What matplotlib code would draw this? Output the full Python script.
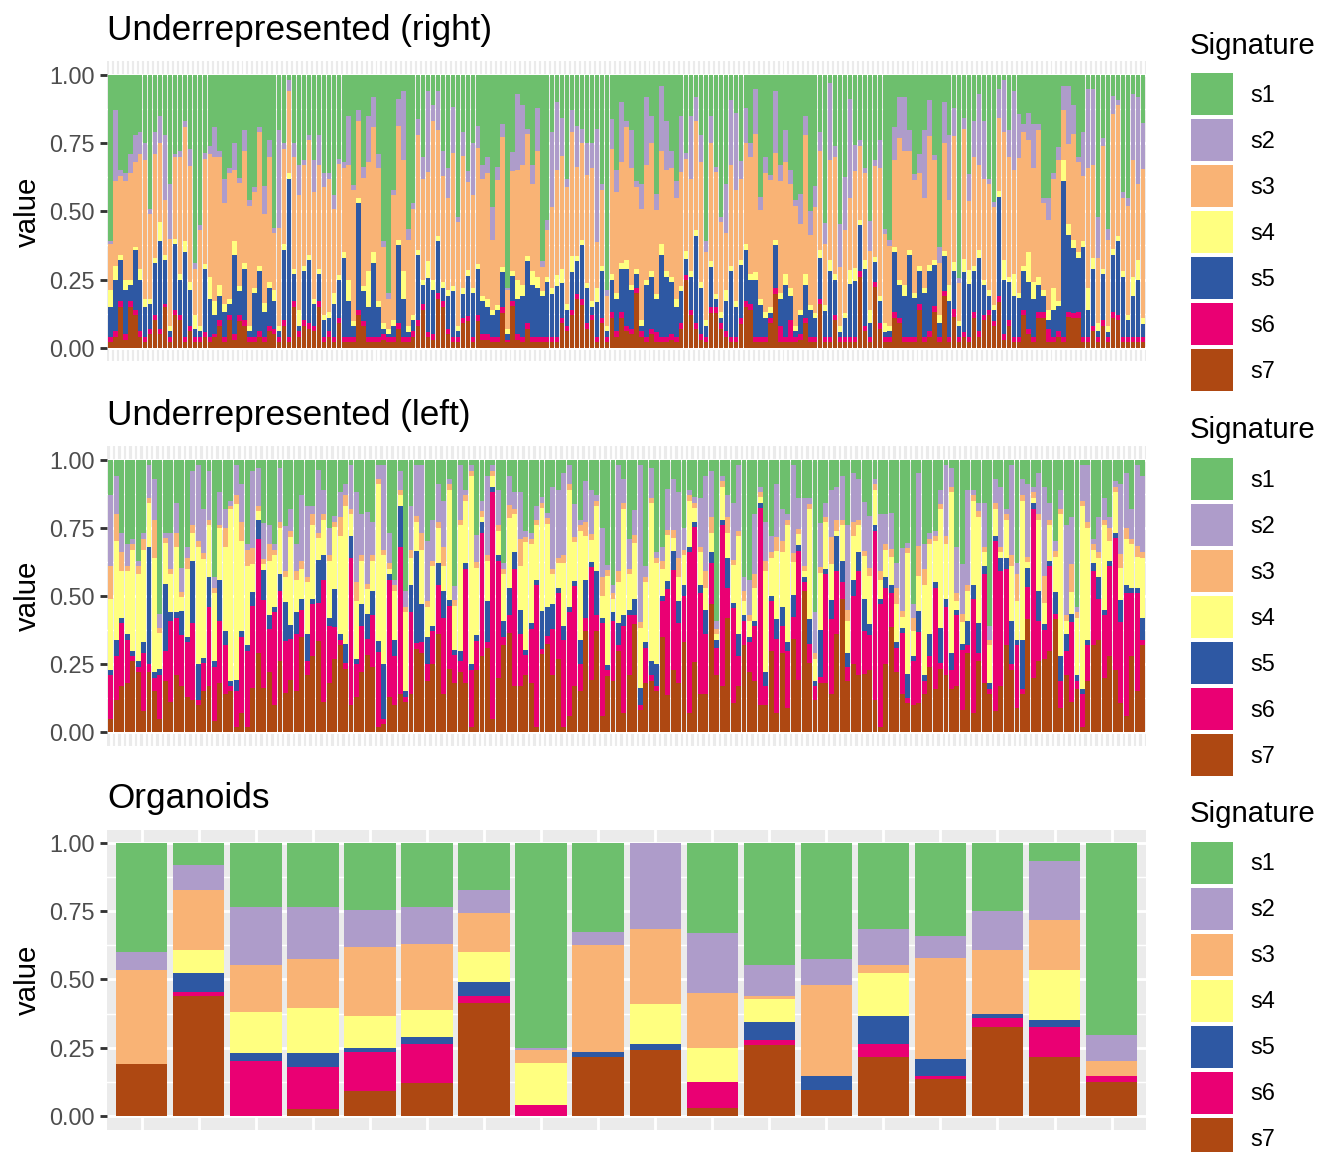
import numpy as np
import matplotlib
matplotlib.use('Agg')
import matplotlib.pyplot as plt
from matplotlib.patches import Rectangle

plt.rcParams['font.family'] = ['Liberation Sans', 'DejaVu Sans']

# ---- data (percent per signature, one value per sample) ----
signatures = ['s1', 's2', 's3', 's4', 's5', 's6', 's7']
sig_colors = ['#6DBF6D', '#AE9CCA', '#F9B375', '#FFFF80', '#2E58A3', '#EA0073', '#AE4812']

# Underrepresented (right): 209 samples
right_s7 = [2, 4, 15, 3, 15, 12, 4, 2, 5, 10, 5, 15, 2, 12, 10, 2, 6, 2, 2, 4,
            2, 4, 8, 2, 10, 3, 10, 8, 2, 2, 4, 2, 6, 5, 2, 8, 2, 15, 4, 8,
            7, 6, 15, 2, 4, 2, 9, 2, 2, 2, 12, 8, 2, 2, 2, 3, 2, 2, 7, 2,
            2, 4, 8, 14, 4, 3, 18, 15, 5, 2, 2, 9, 10, 2, 10, 3, 3, 2, 2, 13,
            2, 15, 3, 2, 7, 2, 2, 2, 2, 2, 2, 9, 6, 12, 18, 16, 7, 10, 2, 9,
            2, 11, 4, 11, 6, 5, 20, 4, 2, 5, 2, 2, 2, 3, 2, 7, 25, 12, 7, 3,
            2, 13, 13, 7, 4, 2, 2, 9, 15, 14, 2, 2, 2, 9, 20, 2, 2, 2, 2, 3,
            9, 2, 2, 16, 2, 2, 10, 2, 2, 2, 2, 26, 6, 2, 22, 7, 2, 2, 11, 9,
            2, 2, 2, 14, 2, 4, 13, 2, 19, 2, 11, 2, 4, 2, 11, 4, 10, 12, 8, 17,
            3, 8, 2, 2, 12, 5, 2, 11, 11, 2, 2, 4, 2, 11, 11, 11, 2, 2, 6, 2,
            8, 2, 10, 10, 2, 2, 2, 2, 2]
right_s6 = [2, 2, 2, 2, 2, 2, 2, 2, 2, 2, 2, 1, 2, 2, 2, 2, 2, 2, 2, 2,
            2, 1, 2, 2, 2, 2, 2, 2, 2, 2, 2, 2, 2, 2, 2, 2, 2, 2, 2, 2,
            2, 2, 2, 2, 2, 2, 2, 2, 2, 2, 2, 2, 2, 2, 2, 2, 2, 2, 2, 2,
            2, 2, 2, 2, 2, 2, 2, 2, 2, 2, 2, 2, 2, 2, 2, 2, 2, 2, 2, 2,
            1, 2, 2, 2, 2, 2, 2, 2, 2, 2, 2, 2, 2, 2, 2, 2, 2, 2, 2, 2,
            2, 2, 2, 2, 2, 2, 2, 2, 2, 2, 4, 2, 2, 2, 2, 2, 2, 2, 2, 2,
            2, 2, 2, 2, 2, 2, 2, 2, 2, 2, 2, 2, 2, 2, 2, 6, 2, 8, 2, 2,
            2, 2, 2, 2, 2, 2, 2, 2, 2, 2, 2, 2, 2, 2, 2, 2, 2, 2, 2, 2,
            2, 2, 2, 2, 2, 2, 2, 2, 2, 2, 3, 2, 2, 2, 2, 2, 2, 2, 2, 2,
            2, 2, 2, 2, 2, 2, 2, 2, 2, 5, 2, 2, 2, 2, 2, 2, 2, 2, 2, 2,
            2, 2, 2, 2, 2, 2, 2, 2, 2]
right_s5 = [11, 19, 15, 16, 6, 22, 19, 11, 9, 19, 32, 16, 2, 24, 13, 31, 13, 3, 2, 23,
            14, 7, 9, 9, 4, 29, 9, 19, 2, 16, 22, 9, 14, 10, 2, 26, 58, 10, 2, 18,
            23, 8, 10, 6, 5, 12, 14, 29, 13, 4, 39, 11, 11, 27, 11, 2, 1, 4, 29, 14,
            2, 4, 24, 7, 20, 16, 19, 5, 12, 17, 2, 9, 15, 16, 17, 12, 10, 8, 10, 13,
            2, 9, 13, 15, 23, 19, 18, 15, 20, 16, 19, 13, 6, 14, 12, 20, 13, 3, 13, 17,
            2, 12, 12, 16, 21, 14, 5, 2, 19, 19, 12, 30, 22, 19, 11, 12, 6, 12, 32, 17,
            4, 15, 3, 2, 11, 24, 11, 20, 19, 9, 21, 12, 7, 2, 16, 10, 19, 9, 2, 7,
            12, 10, 7, 15, 10, 24, 13, 2, 7, 20, 21, 17, 21, 5, 7, 8, 2, 2, 22, 12,
            15, 30, 14, 12, 16, 22, 15, 5, 13, 13, 14, 4, 22, 20, 15, 27, 11, 5, 4, 37,
            20, 14, 15, 14, 14, 17, 14, 10, 6, 3, 10, 9, 57, 28, 24, 20, 33, 10, 21, 2,
            17, 2, 19, 27, 22, 6, 15, 21, 5]
right_s4 = [6, 5, 2, 4, 2, 1, 4, 3, 2, 2, 7, 2, 2, 2, 2, 4, 3, 5, 2, 2,
            8, 5, 4, 3, 2, 5, 2, 2, 2, 2, 2, 3, 2, 4, 2, 2, 2, 2, 6, 2,
            2, 2, 2, 2, 2, 4, 2, 2, 8, 2, 2, 2, 13, 4, 2, 2, 2, 2, 2, 10,
            2, 2, 2, 2, 6, 4, 2, 2, 2, 2, 2, 2, 2, 2, 2, 2, 3, 2, 2, 2,
            2, 2, 7, 4, 2, 5, 4, 2, 2, 2, 4, 5, 2, 6, 2, 2, 2, 2, 5, 2,
            2, 2, 2, 2, 3, 2, 2, 2, 2, 2, 2, 4, 2, 2, 3, 2, 3, 2, 2, 2,
            2, 2, 2, 2, 4, 2, 2, 2, 2, 2, 3, 2, 2, 2, 2, 2, 4, 3, 2, 2,
            4, 2, 2, 3, 2, 4, 2, 2, 2, 5, 5, 2, 3, 5, 2, 2, 3, 2, 2, 2,
            4, 2, 2, 2, 2, 2, 2, 3, 2, 6, 3, 2, 5, 5, 2, 3, 2, 2, 2, 2,
            7, 2, 8, 2, 2, 11, 6, 3, 2, 4, 8, 2, 8, 4, 3, 2, 2, 8, 4, 3,
            2, 2, 2, 2, 2, 2, 7, 7, 2]
right_s3 = [17, 31, 29, 36, 39, 31, 42, 51, 31, 38, 29, 20, 32, 30, 43, 42, 42, 17, 35, 39,
            45, 53, 47, 37, 46, 26, 38, 41, 44, 35, 49, 32, 46, 21, 36, 35, 30, 41, 42, 37,
            42, 39, 38, 47, 49, 31, 41, 31, 42, 49, 28, 40, 40, 46, 49, 28, 11, 46, 42, 41,
            32, 39, 42, 37, 33, 58, 39, 39, 34, 49, 38, 49, 33, 34, 43, 43, 46, 26, 46, 48,
            14, 36, 41, 44, 45, 32, 46, 9, 17, 30, 39, 42, 43, 46, 33, 36, 40, 49, 17, 28,
            11, 46, 37, 37, 49, 43, 30, 41, 42, 47, 31, 34, 37, 40, 37, 42, 34, 34, 40, 44,
            25, 44, 45, 33, 21, 37, 41, 30, 37, 43, 51, 33, 51, 47, 32, 41, 41, 38, 44, 32,
            51, 26, 39, 36, 23, 37, 43, 22, 31, 27, 36, 27, 32, 22, 33, 47, 33, 29, 32, 52,
            49, 36, 41, 34, 33, 47, 36, 19, 40, 31, 46, 14, 48, 26, 40, 31, 37, 39, 36, 27,
            47, 44, 38, 49, 49, 41, 42, 54, 32, 33, 40, 51, 18, 29, 39, 33, 24, 44, 34, 24,
            45, 32, 45, 48, 27, 40, 43, 28, 56]
right_s2 = [1, 26, 2, 3, 7, 10, 8, 6, 2, 8, 10, 24, 20, 1, 2, 2, 6, 2, 2, 2,
            3, 11, 2, 9, 2, 10, 2, 8, 2, 2, 2, 10, 6, 2, 36, 2, 4, 5, 11, 2,
            2, 12, 11, 5, 2, 5, 2, 2, 18, 2, 4, 4, 17, 11, 5, 2, 2, 2, 10, 25,
            4, 2, 6, 8, 30, 6, 14, 9, 11, 17, 2, 9, 4, 19, 8, 5, 6, 12, 5, 5,
            1, 7, 28, 22, 2, 7, 16, 2, 4, 28, 25, 14, 3, 8, 15, 5, 12, 9, 42, 2,
            2, 11, 8, 22, 2, 14, 2, 9, 25, 10, 6, 24, 18, 6, 6, 21, 2, 23, 9, 10,
            4, 10, 2, 2, 18, 24, 28, 7, 13, 5, 17, 5, 6, 2, 23, 6, 12, 5, 2, 11,
            7, 9, 8, 7, 8, 28, 4, 16, 20, 37, 10, 2, 2, 11, 2, 10, 2, 2, 12, 15,
            20, 8, 2, 7, 25, 13, 2, 6, 15, 24, 10, 2, 4, 10, 13, 26, 21, 2, 2, 11,
            19, 10, 29, 16, 3, 10, 16, 2, 2, 8, 2, 5, 9, 21, 11, 2, 16, 29, 28, 15,
            3, 4, 6, 2, 2, 3, 24, 32, 17]
right_s1 = [61, 13, 35, 36, 29, 22, 21, 25, 49, 21, 15, 22, 40, 29, 28, 17, 27, 69, 55, 29,
            26, 19, 28, 38, 34, 25, 38, 20, 46, 41, 19, 40, 24, 56, 20, 25, 2, 25, 33, 31,
            22, 31, 22, 36, 36, 44, 31, 32, 15, 41, 13, 34, 15, 8, 29, 61, 80, 42, 9, 6,
            57, 47, 16, 30, 6, 11, 6, 28, 34, 12, 52, 21, 36, 25, 19, 33, 30, 49, 34, 18,
            78, 28, 7, 11, 20, 33, 12, 69, 53, 21, 10, 16, 38, 13, 19, 20, 25, 25, 20, 40,
            79, 16, 35, 10, 17, 20, 39, 40, 8, 15, 44, 4, 17, 28, 39, 15, 29, 15, 8, 22,
            61, 15, 34, 52, 40, 9, 14, 32, 12, 25, 5, 45, 30, 37, 6, 33, 20, 35, 46, 44,
            15, 51, 41, 21, 56, 3, 26, 55, 38, 9, 26, 24, 34, 54, 31, 24, 57, 60, 19, 8,
            8, 20, 36, 29, 20, 9, 29, 63, 10, 22, 12, 75, 16, 37, 17, 7, 17, 38, 47, 5,
            2, 20, 6, 14, 18, 14, 18, 18, 45, 45, 36, 26, 4, 4, 11, 30, 21, 5, 5, 52,
            23, 57, 7, 9, 43, 45, 7, 8, 18]

# Underrepresented (left): 190 samples
left_s7 = [5, 12, 17, 18, 26, 22, 8, 22, 15, 5, 19, 11, 21, 17, 13, 12, 10, 15, 17, 4,
           18, 14, 15, 2, 7, 2, 16, 29, 16, 22, 10, 26, 14, 19, 15, 35, 21, 28, 34, 11,
           18, 27, 32, 23, 10, 13, 22, 28, 24, 2, 3, 13, 10, 14, 11, 14, 31, 29, 19, 25,
           36, 14, 23, 18, 22, 18, 2, 23, 28, 31, 5, 20, 32, 37, 17, 17, 21, 18, 2, 29,
           33, 21, 27, 2, 6, 17, 15, 37, 19, 37, 6, 21, 19, 30, 7, 21, 39, 8, 18, 19,
           15, 35, 14, 23, 18, 33, 7, 26, 14, 14, 47, 21, 17, 42, 11, 17, 32, 22, 19, 10,
           10, 30, 7, 29, 9, 34, 19, 52, 25, 12, 18, 18, 14, 36, 49, 19, 25, 21, 22, 23,
           12, 2, 25, 38, 22, 14, 11, 10, 11, 14, 24, 16, 23, 21, 16, 17, 8, 29, 7, 26,
           18, 14, 8, 17, 32, 23, 9, 14, 42, 20, 26, 27, 30, 42, 9, 21, 11, 16, 2, 19,
           32, 34, 20, 28, 23, 11, 6, 28, 15, 32]
left_s6 = [16, 16, 23, 16, 2, 2, 21, 3, 5, 16, 11, 30, 21, 19, 20, 28, 2, 10, 29, 20,
           23, 18, 2, 13, 28, 28, 30, 42, 32, 16, 34, 26, 19, 15, 21, 10, 5, 19, 14, 45,
           21, 12, 2, 2, 54, 12, 17, 6, 19, 27, 2, 43, 18, 54, 2, 30, 2, 4, 6, 12,
           18, 28, 23, 10, 4, 42, 21, 11, 45, 2, 83, 43, 3, 7, 43, 19, 7, 20, 52, 2,
           3, 17, 24, 32, 38, 36, 10, 5, 41, 6, 34, 2, 22, 2, 32, 22, 3, 2, 13, 2,
           2, 13, 39, 37, 22, 17, 59, 50, 37, 22, 15, 10, 59, 11, 35, 11, 9, 11, 20, 73,
           7, 18, 27, 10, 21, 8, 47, 3, 7, 5, 2, 40, 27, 23, 6, 5, 25, 38, 16, 13,
           62, 45, 28, 12, 9, 22, 2, 16, 26, 5, 4, 37, 2, 25, 7, 26, 22, 3, 42, 3,
           40, 2, 62, 42, 28, 2, 23, 2, 12, 62, 15, 11, 31, 2, 10, 9, 29, 3, 12, 13,
           27, 15, 23, 33, 49, 30, 45, 23, 35, 2]
left_s5 = [2, 6, 2, 2, 2, 2, 4, 43, 2, 2, 25, 3, 2, 9, 2, 23, 13, 2, 11, 2,
           15, 5, 2, 4, 2, 2, 5, 7, 11, 5, 2, 6, 14, 5, 8, 4, 10, 2, 16, 9,
           3, 14, 2, 7, 8, 2, 8, 9, 9, 4, 20, 2, 6, 15, 2, 10, 34, 14, 10, 2,
           8, 10, 2, 2, 4, 2, 2, 2, 4, 15, 2, 2, 6, 10, 6, 9, 2, 2, 2, 14,
           11, 9, 2, 5, 2, 2, 9, 14, 2, 16, 2, 2, 3, 8, 4, 2, 6, 6, 2, 5,
           8, 2, 3, 7, 8, 4, 2, 2, 3, 9, 4, 3, 2, 11, 2, 8, 2, 2, 2, 2,
           5, 2, 7, 7, 3, 8, 2, 2, 9, 2, 17, 2, 7, 13, 8, 5, 6, 7, 12, 4,
           2, 2, 4, 3, 2, 2, 9, 2, 8, 2, 8, 2, 13, 3, 6, 2, 2, 9, 5, 11,
           3, 2, 2, 5, 4, 16, 2, 18, 7, 2, 11, 2, 2, 8, 9, 6, 3, 2, 2, 2,
           3, 8, 2, 2, 2, 8, 3, 2, 2, 8]
left_s4 = [26, 36, 17, 23, 37, 32, 34, 16, 42, 13, 15, 14, 24, 5, 25, 10, 43, 36, 19, 25,
           19, 31, 63, 64, 33, 29, 10, 3, 2, 20, 19, 17, 9, 32, 12, 11, 19, 27, 8, 13,
           21, 23, 36, 50, 8, 21, 16, 9, 11, 57, 40, 2, 18, 4, 29, 10, 11, 20, 11, 22,
           13, 9, 40, 16, 46, 23, 69, 25, 2, 15, 4, 9, 17, 26, 14, 16, 39, 29, 20, 38,
           31, 11, 9, 23, 43, 14, 40, 16, 8, 24, 8, 33, 5, 15, 39, 13, 20, 22, 22, 58,
           37, 10, 17, 5, 9, 11, 17, 5, 12, 8, 7, 2, 12, 9, 14, 36, 5, 6, 12, 2,
           37, 14, 25, 20, 43, 12, 4, 2, 40, 8, 21, 17, 13, 2, 13, 12, 16, 10, 16, 18,
           13, 7, 10, 10, 14, 4, 45, 9, 13, 33, 33, 15, 43, 20, 59, 3, 8, 11, 31, 39,
           5, 14, 10, 2, 14, 20, 14, 51, 2, 2, 26, 8, 13, 13, 52, 5, 8, 21, 67, 41,
           5, 7, 31, 7, 15, 12, 17, 16, 11, 22]
left_s3 = [12, 10, 7, 2, 2, 3, 4, 2, 14, 2, 2, 2, 5, 2, 4, 3, 2, 2, 2, 2,
           1, 7, 1, 3, 7, 6, 6, 2, 2, 6, 2, 2, 2, 2, 3, 3, 2, 4, 2, 2,
           2, 2, 7, 4, 2, 7, 2, 2, 2, 2, 2, 2, 2, 2, 2, 3, 2, 6, 2, 2,
           2, 7, 2, 2, 2, 2, 2, 2, 2, 2, 2, 2, 2, 5, 2, 10, 2, 2, 2, 2,
           2, 2, 2, 3, 2, 2, 2, 5, 2, 2, 7, 2, 2, 4, 2, 2, 3, 2, 2, 2,
           2, 3, 2, 3, 7, 2, 2, 2, 2, 6, 6, 2, 2, 6, 2, 2, 4, 2, 5, 2,
           4, 2, 5, 4, 2, 3, 2, 2, 2, 2, 2, 2, 10, 4, 2, 4, 5, 2, 2, 3,
           2, 3, 2, 3, 6, 2, 2, 5, 11, 6, 2, 2, 2, 3, 2, 3, 3, 2, 2, 2,
           2, 2, 2, 2, 2, 4, 10, 2, 2, 2, 2, 10, 2, 2, 2, 2, 10, 2, 2, 2,
           2, 2, 2, 5, 2, 5, 4, 2, 4, 2]
left_s2 = [26, 14, 7, 8, 2, 2, 2, 12, 15, 5, 2, 13, 11, 9, 4, 20, 28, 16, 18, 4,
           12, 7, 2, 11, 14, 2, 28, 14, 13, 7, 2, 20, 16, 8, 10, 24, 26, 3, 23, 9,
           10, 2, 9, 4, 16, 33, 15, 26, 12, 5, 31, 11, 2, 7, 6, 16, 19, 25, 22, 15,
           14, 17, 2, 5, 20, 2, 2, 10, 4, 29, 2, 13, 2, 11, 6, 17, 2, 2, 5, 2,
           2, 30, 25, 30, 7, 12, 2, 15, 16, 2, 18, 2, 3, 39, 9, 11, 9, 57, 4, 11,
           2, 5, 15, 19, 24, 8, 2, 2, 18, 35, 17, 3, 2, 8, 21, 24, 5, 13, 22, 2,
           14, 6, 19, 12, 2, 32, 11, 25, 2, 15, 16, 5, 17, 12, 16, 31, 18, 15, 18, 19,
           2, 21, 11, 13, 9, 23, 2, 5, 27, 9, 2, 2, 5, 26, 7, 17, 18, 35, 2, 3,
           16, 5, 9, 22, 2, 33, 4, 6, 27, 2, 15, 33, 6, 4, 7, 33, 17, 2, 13, 21,
           2, 13, 8, 4, 2, 26, 20, 11, 29, 28]
left_s1 = [13, 6, 27, 31, 29, 37, 27, 2, 7, 56, 27, 27, 16, 40, 32, 4, 2, 18, 4, 43,
           12, 18, 15, 2, 9, 31, 4, 3, 23, 24, 31, 3, 24, 18, 31, 13, 17, 17, 4, 11,
           25, 21, 12, 9, 2, 12, 20, 19, 23, 2, 2, 27, 44, 4, 48, 17, 2, 2, 30, 22,
           9, 15, 7, 46, 2, 11, 2, 28, 15, 6, 2, 11, 38, 6, 12, 12, 26, 27, 17, 14,
           20, 10, 11, 5, 2, 16, 22, 8, 11, 13, 25, 39, 46, 2, 7, 29, 18, 2, 39, 3,
           34, 32, 11, 7, 12, 25, 11, 14, 14, 6, 4, 59, 6, 13, 16, 2, 43, 44, 20, 10,
           23, 28, 9, 18, 20, 2, 14, 14, 14, 56, 23, 16, 11, 10, 6, 24, 5, 7, 16, 21,
           7, 20, 20, 19, 38, 32, 31, 53, 5, 31, 27, 26, 11, 2, 3, 32, 38, 11, 11, 16,
           16, 61, 7, 10, 18, 2, 38, 7, 9, 10, 5, 10, 16, 30, 11, 24, 21, 54, 2, 2,
           29, 21, 14, 21, 8, 9, 5, 18, 2, 6]

# Organoids: 18 samples (fractions)
org_s7 = [.19, .44, 0, .025, .09, .12, .415, 0, .215, .24, .03, .26, .095, .215, .135, .325, .215, .125]
org_s6 = [0, .015, .20, .155, .145, .145, .025, .04, 0, 0, .095, .02, 0, .05, .01, .035, .11, .02]
org_s5 = [0, .07, .03, .05, .015, .025, .05, 0, .02, .025, 0, .065, .05, .10, .065, .015, .025, 0]
org_s4 = [0, .085, .15, .165, .115, .10, .11, .155, 0, .145, .125, .085, 0, .16, 0, 0, .185, 0]
org_s3 = [.345, .22, .175, .18, .255, .24, .145, .045, .39, .275, .20, .01, .335, .03, .37, .235, .185, .055]
org_s2 = [.065, .09, .21, .19, .135, .135, .085, .01, .05, .315, .22, .115, .095, .13, .08, .14, .215, .095]
org_s1 = [.40, .08, .235, .235, .245, .235, .17, .75, .325, 0, .33, .445, .425, .315, .34, .25, .065, .705]

panel_titles = ['Underrepresented (right)', 'Underrepresented (left)', 'Organoids']
panel_data = [
    [right_s1, right_s2, right_s3, right_s4, right_s5, right_s6, right_s7],
    [left_s1, left_s2, left_s3, left_s4, left_s5, left_s6, left_s7],
    [org_s1, org_s2, org_s3, org_s4, org_s5, org_s6, org_s7],
]
y_ticks = [0, 0.25, 0.5, 0.75, 1.0]
y_ticklabels = ['0.00', '0.25', '0.50', '0.75', '1.00']

# ---- layout (pixel positions of a 1344x1152 canvas) ----
W, H = 1344, 1152
fig = plt.figure(figsize=(7, 6), dpi=192)


def fx(px):
    return px / W


def fy(py):
    return 1 - py / H


left_px, right_px = 107.5, 1145.8
panel_tops = [61.4, 446.0, 829.5]
panel_h = 300.0

for title, series, top in zip(panel_titles, panel_data, panel_tops):
    ax = fig.add_axes([fx(left_px), fy(top + panel_h), fx(right_px) - fx(left_px), panel_h / H])
    vals = np.array(series, dtype=float)
    vals = vals / vals.sum(axis=0)  # position = "fill"
    n = vals.shape[1]
    x = np.arange(n)

    bottom = np.zeros(n)
    for k in range(6, -1, -1):
        ax.bar(x, vals[k], bottom=bottom, width=0.9, color=sig_colors[k], linewidth=0)
        bottom += vals[k]

    ax.set_facecolor('#EBEBEB')
    for s in ax.spines.values():
        s.set_visible(False)
    ax.set_xlim(-0.6, n - 0.4)
    ax.set_ylim(-0.05, 1.05)
    ax.set_xticks(x)
    ax.set_xticklabels([])
    ax.tick_params(axis='x', length=0)
    ax.set_yticks(y_ticks)
    ax.set_yticklabels(y_ticklabels)
    ax.set_yticks([0.125, 0.375, 0.625, 0.875], minor=True)
    ax.tick_params(axis='y', which='major', length=2.75, width=1.07, color='#333333',
                   labelsize=8.8, labelcolor='#4D4D4D', pad=2.2)
    ax.tick_params(axis='y', which='minor', length=0)
    ax.set_axisbelow(True)
    ax.grid(which='major', color='white', linewidth=1.07)
    ax.grid(which='minor', axis='y', color='white', linewidth=0.53)

    fig.text(fx(left_px), fy(top - 21.4), title, fontsize=13.2, ha='left', va='baseline')
    fig.text(fx(28), fy(top + panel_h / 2), 'value', fontsize=11, rotation=90,
             ha='center', va='center')

    # legend
    fig.text(fx(1190), fy(top - 7.6), 'Signature', fontsize=11, ha='left', va='baseline')
    for i, (lab, col) in enumerate(zip(signatures, sig_colors)):
        ktop = top + 12.0 + i * 46.0
        fig.add_artist(Rectangle((fx(1191), fy(ktop + 42.0)), 41.7 / W, 42.0 / H,
                                 transform=fig.transFigure, facecolor=col, edgecolor='none'))
        fig.text(fx(1250), fy(ktop + 22.5), lab, fontsize=8.8, ha='left', va='center')

fig.savefig('out.png', dpi=192)
